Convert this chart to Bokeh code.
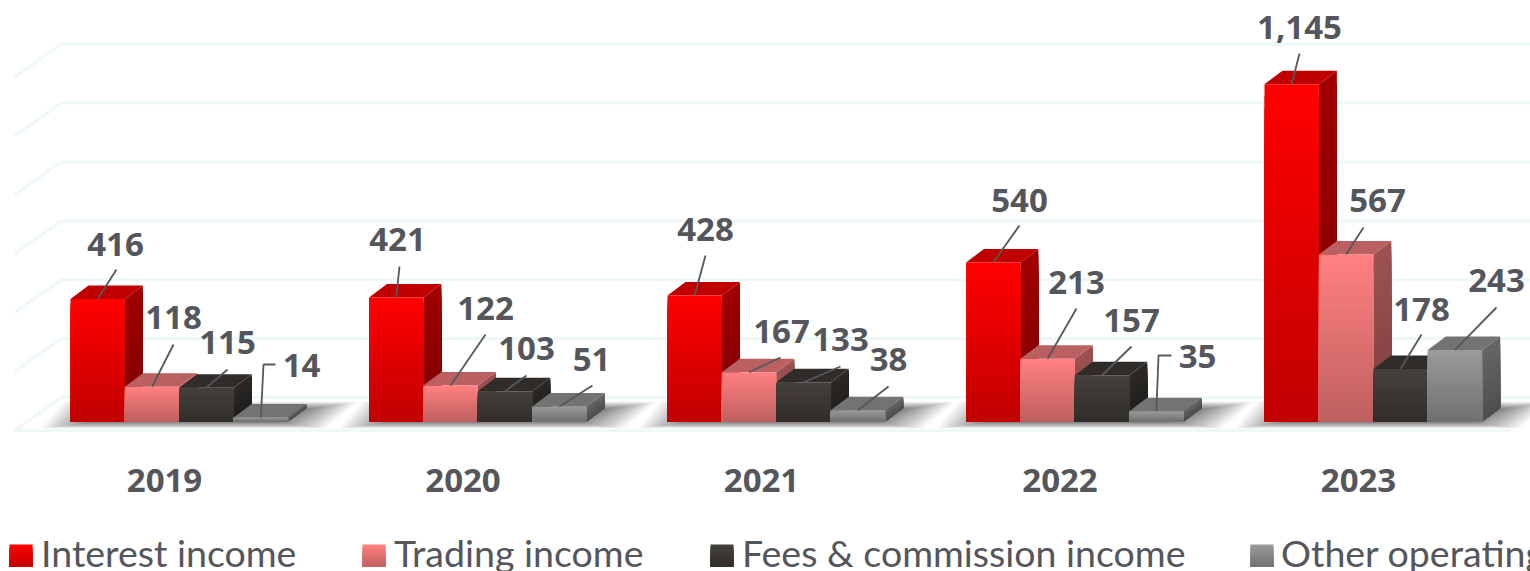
from bokeh.plotting import figure
from bokeh.embed import file_html
from bokeh.resources import INLINE
from bokeh.core.properties import value

# ---- data ----
years = ["2019", "2020", "2021", "2022", "2023"]
series_names = ["Interest income", "Trading income", "Fees & commission income", "Other operating income"]
interest = [416, 421, 428, 540, 1145]
trading = [118, 122, 167, 213, 567]
fees = [115, 103, 133, 157, 178]
other = [14, 51, 38, 35, 243]
grid_values = [0, 200, 400, 600, 800, 1000, 1200]

# ---- styles ----
FRONT = [("#ff0000", "#bf0000"), ("#ff8080", "#bd5f5f"), ("#44403c", "#312e2a"), ("#9a9a9a", "#6f6f6f")]
TOPC = ["#c00000", "#bb6060", "#2f2c29", "#737373"]
SIDE = [("#a00000", "#7c0000"), ("#9c5252", "#7e3f3f"), ("#2c2926", "#201e1c"), ("#666666", "#4e4e4e")]
TXT = "#54565b"
GRID = "#eef8f8"
LABEL_FONT = "Open Sans"
LEGEND_FONT = "Lato"

# ---- layout (picture pixels) ----
PX0, PX_STEP = 164.0, 298.5        # x pixel of category 0, pixels per category
BASE_PY, PX_PER = 421.0, 1 / 3.395  # y pixel of value 0, pixels per value unit
GROUP_LEFT, BAR_W = -94.0, 54.4    # relative to the category centre, pixels
DEPTH_X, DEPTH_Y = 18.0, 13.5      # bar depth, pixels
W_DX, W_DY, BACK_PY = 47.0, 33.0, 397.0

def X(px):
    return (px - PX0) / PX_STEP

def Y(py):
    return (BASE_PY - py) / PX_PER

def DX(px):
    return px / PX_STEP

def DY(px):
    return px / PX_PER

label_pos = [
    [(115, 244), (173, 317), (227, 342), (301, 365)],
    [(397, 239), (485, 308), (526, 348), (591, 359)],
    [(705, 229), (781, 331), (840, 339), (888, 359)],
    [(1019, 200), (1076, 282), (1131, 320), (1197, 356)],
    [(1299, 27), (1377, 200), (1421, 309), (1496, 280)],
]
leader_path = [
    [[(116, 269)], [(173, 344)], [(227, 369)], [(263, 364), (275, 364)]],
    [[(399, 266)], [(485, 334)], [(526, 375)], [(592, 385)]],
    [[(705, 255)], [(780, 357)], [(840, 366)], [(888, 386)]],
    [[(1019, 225)], [(1076, 308)], [(1131, 346)], [(1158, 355), (1171, 355)]],
    [[(1299, 53)], [(1363, 227)], [(1421, 334)], [(1496, 307)]],
]
legend_swatch_px = [9, 362, 710, 1250]
legend_text_px = [40.5, 393.5, 741.5, 1280.5]

def lerp(c1, c2, t):
    a = [int(c1[i:i + 2], 16) for i in (1, 3, 5)]
    b = [int(c2[i:i + 2], 16) for i in (1, 3, 5)]
    return "#%02x%02x%02x" % tuple(round(p + (q - p) * t) for p, q in zip(a, b))

p = figure(width=1530, height=571, output_backend="svg", toolbar_location=None,
           x_range=(X(0), X(1530)), y_range=(Y(571), Y(0)), min_border=0)
p.axis.visible = False
p.grid.visible = False
p.outline_line_color = None
p.background_fill_color = "white"
p.border_fill_color = "white"

# ---- walls grid ----
gx, gy = [], []
for v in grid_values:
    yb = Y(BACK_PY) + v
    gx.append([X(14), X(14 + W_DX), X(1530)])
    gy.append([yb - DY(W_DY), yb, yb])
gx.append([X(14), X(1510)])
gy.append([Y(BACK_PY) - DY(W_DY)] * 2)
p.multi_line(gx, gy, line_color=GRID, line_width=3)

# ---- floor shadows: stacked slanted layers fading outwards ----
series = [interest, trading, fees, other]
layers = 36
sxs, sys = [], []
for c in range(len(years)):
    left = c + DX(GROUP_LEFT)
    right = left + DX(4 * BAR_W + DEPTH_X)
    for k in range(layers):
        t = k / layers
        lo, hi = Y(428 - 8 * t), Y(401 + 10 * t)
        inset = 65 * t
        sxs.append([left - DX(30 - inset), right + DX(20 - inset),
                    right + DX(53 - inset), left - DX(8 - inset)])
        sys.append([lo, lo, hi, hi])
p.patches(sxs, sys, fill_color="#000000", fill_alpha=0.02, line_color=None)

# ---- 3D bars, drawn back to front as stacks of gradient slices ----
xs, ys, cols = [], [], []
SLICES = 28
for c in range(len(years)):
    for s, vals in enumerate(series):
        v = vals[c]
        l = c + DX(GROUP_LEFT + s * BAR_W)
        r = l + DX(BAR_W)
        dx, dy = DX(DEPTH_X), DY(DEPTH_Y)
        for k in range(SLICES):
            t = k / SLICES
            vt = v * (1 - t)
            xs.append([r, r + dx, r + dx, r])
            ys.append([0, dy, dy + vt, vt])
            cols.append(lerp(SIDE[s][0], SIDE[s][1], t))
        xs.append([l, r, r + dx, l + dx])
        ys.append([v, v, v + dy, v + dy])
        cols.append(TOPC[s])
        for k in range(SLICES):
            t = k / SLICES
            vt = v * (1 - t)
            xs.append([l, r, r, l])
            ys.append([0, 0, vt, vt])
            cols.append(lerp(FRONT[s][0], FRONT[s][1], t))
p.patches(xs, ys, fill_color=cols, line_color=None)

# ---- leader lines ----
lx, ly = [], []
for c in range(len(years)):
    for s, vals in enumerate(series):
        start_x = c + DX(GROUP_LEFT + (s + 0.5) * BAR_W)
        path = [(X(a), Y(b)) for a, b in leader_path[c][s]]
        lx.append([start_x] + [q[0] for q in path])
        ly.append([vals[c]] + [q[1] for q in path])
p.multi_line(lx, ly, line_color="#54585c", line_width=1.8)

# ---- data labels ----
tx, ty, tt = [], [], []
for c in range(len(years)):
    for s, vals in enumerate(series):
        tx.append(X(label_pos[c][s][0]))
        ty.append(Y(label_pos[c][s][1]))
        tt.append(f"{vals[c]:,}")
p.text(tx, ty, text=tt, text_font=value(LABEL_FONT), text_font_style="bold",
       text_font_size="33px", text_color=TXT, text_align="center", text_baseline="middle")

# ---- category labels ----
p.text(list(range(len(years))), [Y(480)] * len(years), text=years, text_font=value(LABEL_FONT),
       text_font_style="bold", text_font_size="33px", text_color=TXT,
       text_align="center", text_baseline="middle")

# ---- legend ----
lxs, lys, lcs = [], [], []
for s in range(len(series_names)):
    a = X(legend_swatch_px[s])
    b = X(legend_swatch_px[s] + 23)
    for k in range(10):
        lxs.append([a, b, b, a])
        lys.append([Y(566), Y(566), Y(544) - DY(22) * k / 10, Y(544) - DY(22) * k / 10])
        lcs.append(lerp(FRONT[s][0], FRONT[s][1], k / 10))
p.patches(lxs, lys, fill_color=lcs, line_color=None)
p.text([X(a) for a in legend_text_px], [Y(552)] * 4, text=series_names, text_font=value(LEGEND_FONT),
       text_font_size="37.5px", text_color=TXT, text_align="left", text_baseline="middle")

open("out.html", "w").write(file_html(p, INLINE))
